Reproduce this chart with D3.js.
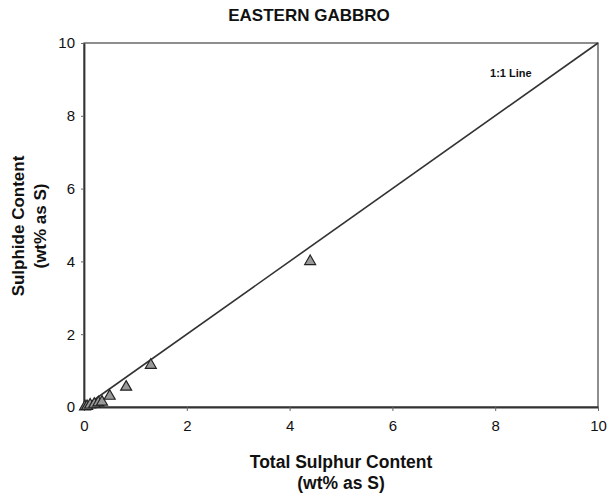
<!DOCTYPE html>
<html>
<head>
<meta charset="utf-8">
<script src="https://cdn.jsdelivr.net/npm/d3@7"></script>
<style>
  body { margin: 0; background: #fff; }
  text { font-family: "Liberation Sans", Arial, sans-serif; fill: #111; }
</style>
</head>
<body>
<svg width="611" height="499"></svg>
<script>
// data (wt% as S)
var totalS = [0.02, 0.06, 0.12, 0.2, 0.28, 0.35, 0.5, 0.82, 1.3, 4.4];
var sulphideS = [0.01, 0.02, 0.06, 0.08, 0.12, 0.14, 0.3, 0.55, 1.15, 4.0];
var xTicks = [0, 2, 4, 6, 8, 10];
var yTicks = [0, 2, 4, 6, 8, 10];
var oneToOne = [[0, 0], [10, 10]];

var svg = d3.select("svg"),
    margin = {top: 43, right: 13, bottom: 92, left: 84},
    width = +svg.attr("width") - margin.left - margin.right,
    height = +svg.attr("height") - margin.top - margin.bottom;

var x = d3.scaleLinear().domain([0, 10]).range([0, width]),
    y = d3.scaleLinear().domain([0, 10]).range([height, 0]);

var g = svg.append("g")
    .attr("transform", "translate(" + margin.left + "," + margin.top + ")");

// frame
g.append("rect")
    .attr("width", width)
    .attr("height", height)
    .attr("fill", "none")
    .attr("stroke", "#444")
    .attr("stroke-width", 1.2);

// axes
var xAxis = g.append("g")
    .attr("transform", "translate(0," + height + ")")
    .call(d3.axisBottom(x).tickValues(xTicks).tickSize(4).tickSizeOuter(0));
var yAxis = g.append("g")
    .call(d3.axisLeft(y).tickValues(yTicks).tickSize(3).tickSizeOuter(0));

[xAxis, yAxis].forEach(function(a) {
  a.select(".domain").attr("stroke", "#333").attr("stroke-width", 1.8);
  a.selectAll(".tick line").attr("stroke", "#666");
  a.selectAll(".tick text").style("font-size", "15px").attr("fill", "#111");
});
xAxis.selectAll(".tick text").attr("dy", "1.1em");
yAxis.selectAll(".tick text").attr("x", -9);

// 1:1 line
g.append("line")
    .attr("x1", x(oneToOne[0][0])).attr("y1", y(oneToOne[0][1]))
    .attr("x2", x(oneToOne[1][0])).attr("y2", y(oneToOne[1][1]))
    .attr("stroke", "#333")
    .attr("stroke-width", 1.6);

g.append("text")
    .attr("x", x(7.9))
    .attr("y", y(9.9) + 30)
    .style("font-size", "11px")
    .style("font-weight", "bold")
    .attr("fill", "#444")
    .text("1:1 Line");

// data points
var tri = d3.symbol().type(d3.symbolTriangle).size(52);
g.selectAll(".pt")
  .data(totalS)
  .enter().append("path")
    .attr("class", "pt")
    .attr("d", tri)
    .attr("transform", function(d, i) { return "translate(" + x(d) + "," + y(sulphideS[i]) + ")"; })
    .attr("fill", "#999")
    .attr("stroke", "#222")
    .attr("stroke-width", 1.2);

// titles
svg.append("text")
    .attr("x", 309).attr("y", 21)
    .attr("text-anchor", "middle")
    .style("font-size", "17px").style("font-weight", "bold")
    .text("EASTERN GABBRO");

var xl = svg.append("text")
    .attr("text-anchor", "middle")
    .style("font-size", "17.5px").style("font-weight", "bold");
xl.append("tspan").attr("x", margin.left + width / 2).attr("y", 468).text("Total Sulphur Content");
xl.append("tspan").attr("x", margin.left + width / 2).attr("y", 489).text("(wt% as S)");

var yl = svg.append("text")
    .attr("transform", "translate(24,226) rotate(-90)")
    .attr("text-anchor", "middle")
    .style("font-size", "17px").style("font-weight", "bold");
yl.append("tspan").attr("x", 0).attr("y", 0).text("Sulphide Content");
yl.append("tspan").attr("x", 0).attr("y", 22).text("(wt% as S)");
</script>
</body>
</html>
